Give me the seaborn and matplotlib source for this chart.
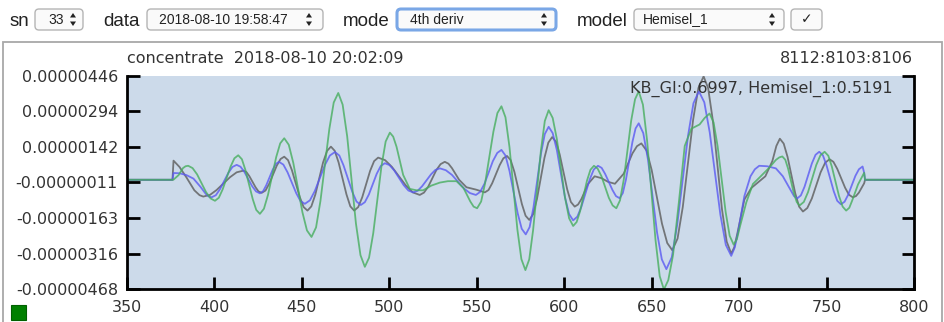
import numpy as np
import pandas as pd
import matplotlib
matplotlib.use('Agg')
import matplotlib.pyplot as plt
import seaborn as sns
from matplotlib.patches import FancyBboxPatch, Rectangle, Polygon
from matplotlib.transforms import IdentityTransform

sns.set_theme(style='white')
plt.rcParams['font.family'] = ['DejaVu Sans']

# ---- data (values in units of 1e-6) ----
gray_x = [350, 376, 376.6, 380, 384, 388.5, 391.5, 393.6, 397.4, 401.2,
          408.9, 412.7, 416.5, 418.3, 420, 423.5, 425.2, 427, 429.2, 431.3,
          435.6, 437.8, 439.9, 442.1, 444.3, 448.8, 451, 453.2, 455.4, 457.7,
          462.1, 464.4, 466.6, 468.8, 471, 475.5, 477.7, 479.9, 482.2, 484.5,
          489, 491.3, 493.6, 497.6, 501.5, 509.5, 513.4, 517.4, 519.8, 522.2,
          526.9, 529.3, 531.7, 533.8, 535.8, 539.9, 544.1, 549.5, 554.6, 556.7,
          558.8, 563.1, 565.2, 567.3, 569.4, 571.5, 575.8, 577.9, 580, 582.2,
          584.4, 588.7, 590.9, 593.1, 595.3, 597.4, 601.7, 603.8, 606, 607.9,
          609.8, 613.6, 617.4, 621.3, 625.1, 629, 634, 639, 641.6, 644.1,
          647.1, 650, 655.9, 658.9, 661.8, 664.8, 667.8, 673.7, 676.7, 679.7,
          682.3, 685, 690.2, 692.9, 695.5, 697.2, 699, 703, 707, 711,
          715, 719, 721.3, 723.3, 725.5, 727.7, 732.1, 734.3, 736.5, 739,
          741.6, 746.6, 749.2, 751.7, 753.9, 756.1, 760.6, 762.8, 765, 766.8,
          768.5, 771.5, 772, 800]
gray_y = [0, 0, 0.82, 0.55, 0.1, -0.45, -0.66, -0.72, -0.65, -0.44,
          0.11, 0.32, 0.39, 0.33, 0.15, -0.32, -0.50, -0.56, -0.46, -0.17,
          0.60, 0.89, 0.99, 0.84, 0.41, -0.74, -1.17, -1.32, -1.14, -0.63,
          0.74, 1.24, 1.42, 1.24, 0.74, -0.63, -1.14, -1.32, -1.17, -0.75,
          0.38, 0.80, 0.95, 0.84, 0.55, -0.25, -0.54, -0.65, -0.55, -0.30,
          0.42, 0.67, 0.77, 0.69, 0.50, 0.0, -0.32, -0.42, -0.54, -0.44,
          -0.15, 0.63, 0.92, 1.02, 0.84, 0.34, -1.04, -1.54, -1.72, -1.48,
          -0.83, 0.94, 1.59, 1.83, 1.63, 1.09, -0.41, -0.95, -1.15, -1.06,
          -0.83, -0.18, 0.15, 0.07, -0.09, -0.17, 0.26, 1.13, 1.44, 1.56,
          1.25, 0.42, -1.88, -2.71, -3.02, -2.52, -1.16, 2.57, 3.93, 4.43,
          3.92, 2.53, -1.26, -2.65, -3.16, -2.9, -2.3, -0.85, -0.35, -0.1,
          0.15, 0.8, 1.45, 1.76, 1.55, 0.98, -0.58, -1.15, -1.36, -1.21,
          -0.80, 0.32, 0.73, 0.88, 0.77, 0.47, -0.34, -0.64, -0.75, -0.7,
          -0.55, -0.15, 0, 0]

blue_x = [350, 376, 376.6, 380, 384, 388, 392, 395, 396.8, 398.4,
          400.8, 403.2, 407.9, 410.3, 412.7, 414.9, 417.1, 421.6, 423.8, 426,
          427.8, 429.6, 433.3, 435.1, 436.9, 439.4, 441.8, 446.8, 449.2, 451.7,
          454.6, 457.4, 463.2, 466, 468.9, 471.4, 473.8, 478.8, 481.2, 483.7,
          486, 488.3, 492.8, 495.1, 497.4, 500.1, 502.8, 508.2, 510.9, 513.6,
          516.2, 518.7, 523.8, 526.3, 528.9, 532.3, 535.8, 542.6, 546.1, 549.5,
          551.9, 554.4, 559.2, 561.7, 564.1, 566.4, 568.7, 573.4, 575.7, 578,
          580.2, 582.4, 586.7, 588.9, 591.1, 593.4, 595.8, 600.4, 602.8, 605.1,
          607.5, 609.8, 614.6, 616.9, 619.3, 621.4, 623.4, 627.6, 629.6, 631.7,
          633.5, 635.3, 639, 640.8, 642.6, 645.2, 647.9, 653.1, 655.8, 658.4,
          661.5, 664.6, 670.8, 673.9, 677, 680.1, 683.2, 689.3, 692.4, 695.5,
          697.5, 699.5, 703, 706.5, 709, 711.5, 716, 721, 725, 729.5,
          731.4, 733.2, 735.3, 737.4, 741.6, 743.7, 745.8, 747.9, 749.9, 754.1,
          756.1, 758.2, 760.3, 762.3, 766.5, 768.5, 770.6, 771.5, 772, 800]
blue_y = [0, 0, 0.29, 0.28, 0.2, 0.05, -0.3, -0.6, -0.72, -0.75,
          -0.66, -0.40, 0.29, 0.55, 0.64, 0.56, 0.34, -0.28, -0.50, -0.58,
          -0.49, -0.24, 0.43, 0.68, 0.77, 0.65, 0.32, -0.58, -0.91, -1.03,
          -0.88, -0.48, 0.64, 1.04, 1.19, 1.04, 0.62, -0.51, -0.93, -1.08,
          -0.96, -0.63, 0.26, 0.59, 0.71, 0.63, 0.40, -0.23, -0.46, -0.54,
          -0.47, -0.28, 0.23, 0.42, 0.49, 0.41, 0.21, -0.37, -0.57, -0.65,
          -0.52, -0.17, 0.80, 1.15, 1.28, 1.04, 0.38, -1.44, -2.10, -2.34,
          -2.03, -1.19, 1.12, 1.96, 2.27, 2.0, 1.27, -0.74, -1.47, -1.74,
          -1.58, -1.16, 0.02, 0.44, 0.60, 0.51, 0.25, -0.44, -0.70, -0.79,
          -0.57, 0.01, 1.62, 2.2, 2.42, 2.0, 0.86, -2.27, -3.41, -3.83,
          -3.32, -1.93, 1.89, 3.28, 3.79, 3.32, 2.03, -1.50, -2.79, -3.26,
          -2.9, -2.2, -0.7, 0.15, 0.45, 0.60, 0.58, 0.49, 0.15, -0.45,
          -0.7, -0.80, -0.67, -0.30, 0.70, 1.07, 1.20, 1.05, 0.64, -0.49,
          -0.90, -1.05, -0.94, -0.65, 0.17, 0.45, 0.57, 0.3, 0, 0]

green_x = [350, 376.5, 379.5, 382, 383.5, 385, 387.5, 390.1, 395.2, 397.8,
           400.3, 402.5, 404.7, 409.2, 411.4, 413.6, 415.7, 417.7, 421.9, 423.9,
           426, 428.3, 430.6, 435.3, 437.6, 439.9, 442.5, 445.1, 450.3, 452.9,
           455.5, 458.1, 460.6, 465.7, 468.2, 470.8, 473.3, 475.9, 480.9, 483.5,
           486, 488.4, 490.8, 495.5, 497.9, 500.3, 502.2, 504.1, 507.9, 511.7,
           515.5, 519.3, 524, 528.9, 533.5, 538.4, 542.4, 546.3, 548.2, 550.2,
           552.5, 554.8, 559.5, 561.8, 564.1, 566.4, 568.7, 573.2, 575.5, 577.8,
           580, 582.2, 586.7, 588.9, 591.1, 593.4, 595.8, 600.4, 602.8, 605.1,
           607.1, 609.1, 613, 615, 617, 619.1, 621.3, 625.5, 627.7, 629.8,
           631.9, 634.1, 638.3, 640.5, 642.6, 645, 647.4, 652.2, 654.6, 657,
           659.5, 662.2, 665.5, 668.9, 672.7, 677.4, 680.3, 683.1, 685.4, 687.7,
           692.3, 694.6, 696.9, 698.7, 700.5, 704.1, 707.9, 711.7, 717.4, 721,
           723, 724.7, 726.4, 728, 731.3, 733, 734.6, 737, 739.4, 744.1,
           746.5, 748.9, 751, 753, 757.1, 759.2, 761.2, 763, 764.6, 768,
           771.5, 772, 800]
green_y = [0, 0, 0.2, 0.5, 0.58, 0.60, 0.50, 0.23, -0.53, -0.80,
           -0.90, -0.77, -0.41, 0.56, 0.92, 1.05, 0.88, 0.42, -0.83, -1.29,
           -1.46, -1.24, -0.65, 0.97, 1.56, 1.78, 1.50, 0.72, -1.39, -2.17,
           -2.45, -2.04, -0.91, 2.18, 3.31, 3.72, 3.22, 1.86, -1.87, -3.23,
           -3.73, -3.34, -2.29, 0.58, 1.64, 2.02, 1.85, 1.42, 0.21, -0.39,
           -0.45, -0.45, -0.25, -0.12, -0.06, -0.06, -0.35, -0.93, -1.15, -1.22,
           -0.93, -0.13, 2.06, 2.86, 3.15, 2.68, 1.40, -2.12, -3.40, -3.87,
           -3.41, -2.16, 1.27, 2.52, 2.98, 2.65, 1.74, -0.74, -1.65, -1.98,
           -1.81, -1.34, -0.04, 0.43, 0.60, 0.48, 0.15, -0.77, -1.10, -1.22,
           -0.88, 0.03, 2.54, 3.45, 3.79, 3.22, 1.67, -2.58, -4.13, -4.70,
           -4.3, -3.23, -1.0, 1.45, 2.19, 2.37, 2.65, 2.84, 2.46, 1.44,
           -1.38, -2.40, -2.78, -2.55, -2.0, -0.97, -0.18, 0.10, 0.53, 0.85,
           0.96, 1.0, 0.86, 0.48, -0.58, -0.96, -1.10, -0.95, -0.53, 0.63,
           1.05, 1.20, 1.03, 0.57, -0.69, -1.15, -1.32, -1.2, -0.9, -0.2,
           0.3, 0, 0]

series_names = ['measured', 'Hemisel_1', 'KB_GI']
series_colors = ['#5c5c5c', '#5a5af2', '#47ae5e']

y_ticks = [4.46, 2.94, 1.42, -0.11, -1.63, -3.16, -4.68]
y_tick_labels = ['0.00000446', '0.00000294', '0.00000142', '-0.00000011',
                 '-0.00000163', '-0.00000316', '-0.00000468']
x_ticks = [350, 400, 450, 500, 550, 600, 650, 700, 750, 800]

title_left = 'concentrate  2018-08-10 20:02:09'
title_right = '8112:8103:8106'
score_text = 'KB_GI:0.6997, Hemisel_1:0.5191'

# ---- build frame ----
frames = []
for name, xs, ys in zip(series_names, [gray_x, blue_x, green_x], [gray_y, blue_y, green_y]):
    frames.append(pd.DataFrame({'nm': xs, 'value': ys, 'series': name}))
df = pd.concat(frames, ignore_index=True)

W, H = 945, 322
fig = plt.figure(figsize=(W / 100, H / 100), dpi=100)
fig.patch.set_facecolor('white')


def fx(x):
    return x / W


def fy(y):
    return 1 - y / H


# outer frame of the panel
fig.add_artist(Rectangle((3, H - 335), 939, 335 - 42, transform=IdentityTransform(),
                         fill=False, ec='#a8a8a8', lw=1.3))

ax = fig.add_axes([fx(127), fy(289), fx(914) - fx(127), fy(75.7) - fy(289)])
ax.set_facecolor('#ccdaea')

sns.lineplot(data=df, x='nm', y='value', hue='series', hue_order=series_names,
             palette=dict(zip(series_names, series_colors)), estimator=None, sort=False,
             linewidth=1.3, alpha=0.8, legend=False, ax=ax)

ax.set_xlim(350, 800)
ax.set_ylim(-4.68, 4.46)
ax.set_xticks(x_ticks)
ax.set_xticklabels([str(v) for v in x_ticks])
ax.set_yticks(y_ticks)
ax.set_yticklabels(y_tick_labels)
ax.set_xlabel('')
ax.set_ylabel('')

for side in ['left', 'bottom', 'right']:
    ax.spines[side].set_visible(True)
    ax.spines[side].set_color('black')
    ax.spines[side].set_linewidth(2)
ax.spines['top'].set_visible(False)

ax.tick_params(axis='both', which='major', direction='in', length=9, width=2, color='black',
               labelsize=11.5, labelcolor='#333333')
ax.tick_params(axis='y', left=True, right=True, labelright=False, pad=6.5)
ax.tick_params(axis='x', bottom=True, top=False, pad=8)

# chart titles
fig.text(fx(127), fy(58.5), title_left, ha='left', va='center', fontsize=11.5, color='#333333')
fig.text(fx(913), fy(58.5), title_right, ha='right', va='center', fontsize=11.5, color='#333333')
fig.text(fx(893), fy(89), score_text, ha='right', va='center', fontsize=11.5, color='#333333')

# green status square
fig.add_artist(Rectangle((11, H - 320), 15, 15, transform=IdentityTransform(),
                         fc='#008000', ec='#006000', lw=0.8))

# ---- top controls ----
ctrl_font = ['Liberation Sans', 'DejaVu Sans']


def box(x0, x1, ec='#b5b5b5', lw=1.0, y0=9, y1=30):
    fig.add_artist(FancyBboxPatch((x0, H - y1), x1 - x0, y1 - y0,
                                  boxstyle='round,pad=0,rounding_size=4',
                                  transform=IdentityTransform(), fc='#fafafa', ec=ec, lw=lw))


def arrows(x):
    up = [(x - 3, H - 17.5), (x + 3, H - 17.5), (x, H - 13)]
    dn = [(x - 3, H - 21.5), (x + 3, H - 21.5), (x, H - 26)]
    for pts in (up, dn):
        fig.add_artist(Polygon(pts, closed=True, transform=IdentityTransform(),
                               fc='#222222', ec='none'))


labels = [('sn', 10), ('data', 103), ('mode', 343), ('model', 577)]
for t, x in labels:
    fig.text(fx(x), fy(26.5), t, ha='left', va='baseline', fontsize=13.5, color='#222222',
             family=ctrl_font)

box(35, 83)
fig.text(fx(48), fy(19.5), '33', ha='left', va='center', fontsize=10, color='#222222', family=ctrl_font)
arrows(73)

box(147, 323)
fig.text(fx(159), fy(19.5), '2018-08-10 19:58:47', ha='left', va='center', fontsize=10,
         color='#222222', family=ctrl_font)
arrows(309)

box(397, 556, ec='#7aa7e6', lw=2.2)
fig.text(fx(410), fy(19.5), '4th deriv', ha='left', va='center', fontsize=10, color='#222222',
         family=ctrl_font)
arrows(544)

box(634, 784)
fig.text(fx(643), fy(19.5), 'Hemisel_1', ha='left', va='center', fontsize=10, color='#222222',
         family=ctrl_font)
arrows(772)

box(791, 822)
fig.text(fx(806.5), fy(19.5), '\u2713', ha='center', va='center', fontsize=10, color='#222222',
         family=['DejaVu Sans'])

fig.savefig('out.png', dpi=100)
